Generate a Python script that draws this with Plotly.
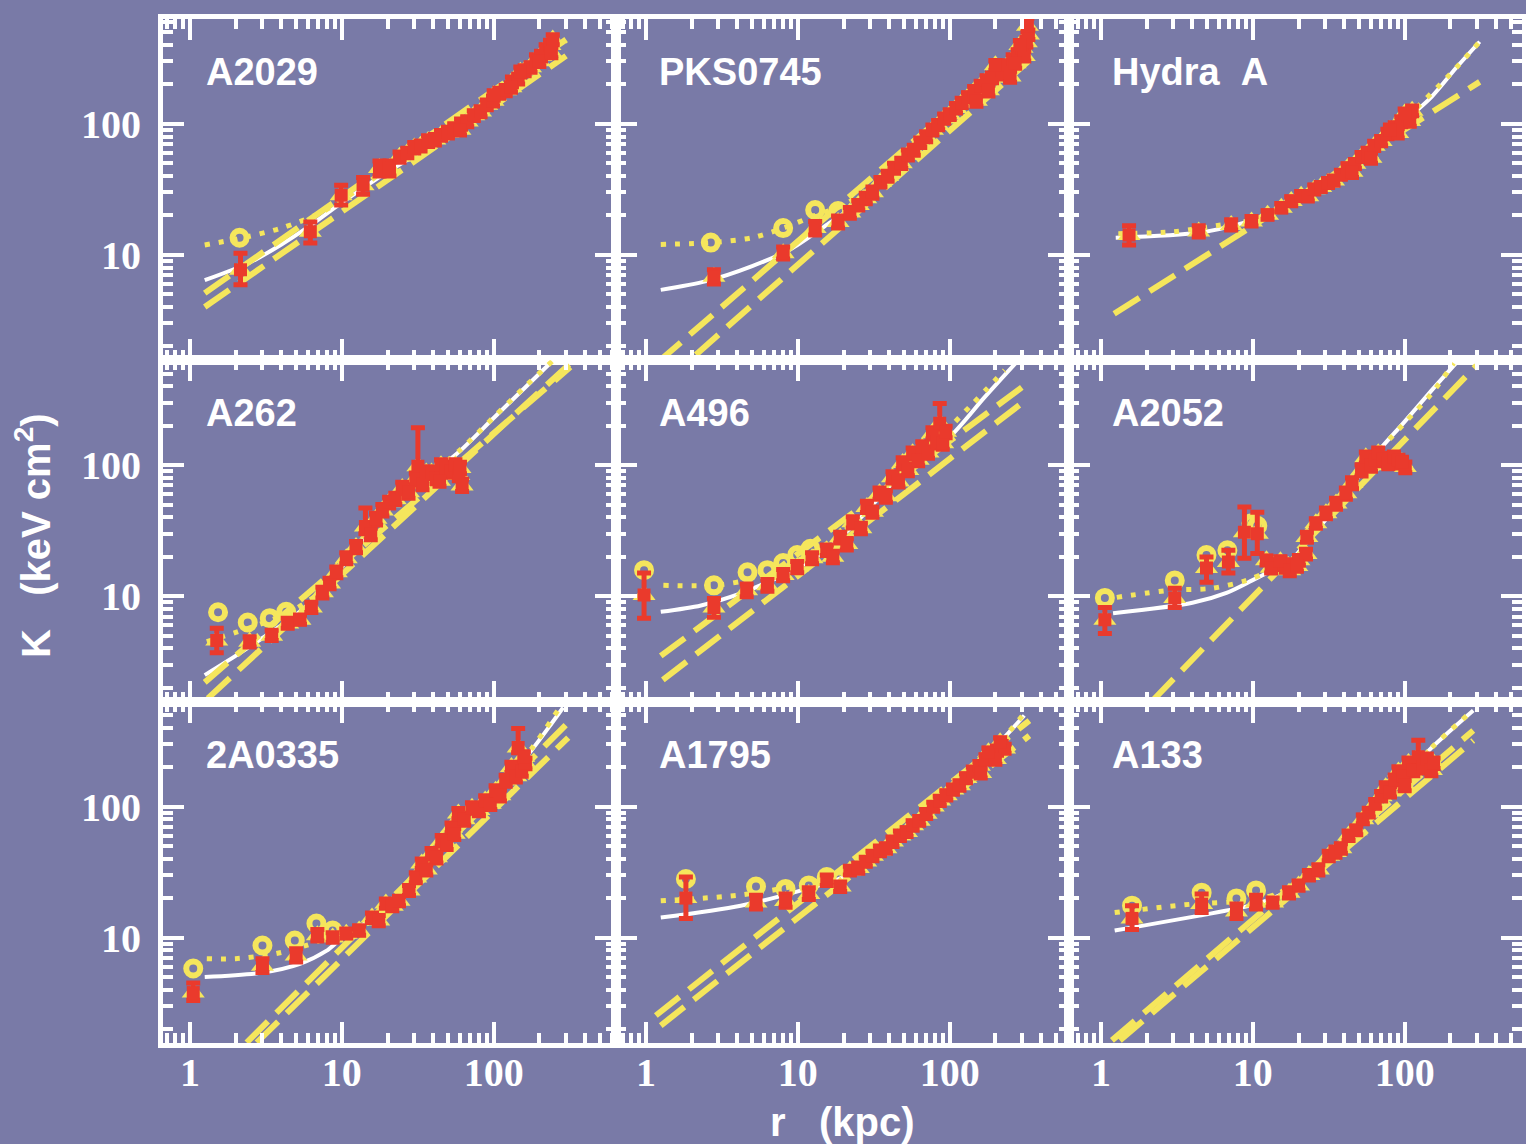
import plotly.graph_objects as go
from plotly.subplots import make_subplots

# ---------------- data ----------------
PANEL_NAMES = ["A2029", "PKS0745", "Hydra\u00a0\u00a0A",
               "A262", "A496", "A2052",
               "2A0335", "A1795", "A133"]

X_TICKS = [1, 10, 100]
X_TICKTEXT = ["1", "10", "100"]
Y_TICKS = [10, 100]
Y_TICKTEXT = ["10", "100"]

# ---- A2029 ----
A2029_R = [2.15, 6.2, 9.9, 13.8, 17.7, 20.6, 24, 27, 30, 33, 37, 41, 45, 50, 55, 61, 67, 74, 82, 90,
           99, 109, 120, 132, 145, 160, 175, 190, 205, 220, 235, 245, 60, 100, 130, 200, 240, 150]
A2029_K = [7.7, 15.0, 28.5, 34, 46, 46, 56, 60, 66, 68, 74, 76, 82, 86, 92, 100, 104, 116, 124, 140,
           150, 172, 180, 210, 220, 255, 270, 310, 330, 370, 400, 440, 90, 165, 190, 300, 350, 250]
A2029_EM = [1.8, 2.7, 4.5, 5, 6, 6, 5, 5, 6, 6, 7, 7, 7, 8, 8, 9, 9, 10, 11, 12,
            13, 15, 16, 18, 19, 22, 23, 27, 28, 32, 34, 38, 8, 14, 16, 26, 30, 22]
A2029_EP = [2.6, 2.8, 5.5, 5, 6, 6, 5, 5, 6, 6, 7, 7, 7, 8, 8, 9, 9, 10, 11, 12,
            13, 15, 16, 18, 19, 22, 23, 27, 28, 32, 34, 38, 8, 14, 16, 26, 30, 22]
A2029_CR = [2.12]
A2029_CK = [13.5]
A2029_WR = [1.25, 2.46, 4, 6.05, 10, 20, 40, 70, 100, 150, 200, 250]
A2029_WK = [6.4, 8.7, 12, 16.4, 25, 43, 70, 110, 155, 230, 310, 390]
A2029_DR = [1.25, 2.1, 4, 7, 10, 15, 25, 50, 100, 200, 300]
A2029_DK = [11.9, 13.3, 16, 20.5, 26, 36, 55, 85, 150, 300, 430]
A2029_DASH = [([1.25, 300], [5.1, 440]), ([1.25, 300], [4.0, 330])]

# ---- PKS0745 ----
PKS0745_R = [2.8, 8.0, 13, 18.4, 22, 25, 28, 31, 35, 39, 43, 48, 53, 58, 64, 70, 77, 84, 92, 100,
             110, 120, 132, 145, 160, 175, 190, 205, 220, 240, 260, 280, 300, 320, 330, 310, 290, 270,
             325, 200, 250, 180, 150]
PKS0745_K = [6.8, 10.3, 16, 17.8, 21, 24, 27, 30, 36, 40, 46, 50, 58, 63, 72, 80, 90, 98, 110, 118,
             132, 145, 160, 178, 195, 215, 225, 240, 255, 280, 310, 340, 380, 420, 480, 330, 400, 290,
             560, 280, 230, 180, 150]
PKS0745_EM = [0.8, 1.0, 1.8, 1.8, 2, 2, 2.5, 3, 3, 3.5, 4, 4.5, 5, 5.5, 6, 7, 8, 8, 9, 10,
              11, 12, 13, 15, 16, 18, 19, 20, 21, 23, 26, 28, 32, 35, 40, 28, 33, 24,
              60, 24, 22, 17, 14]
PKS0745_EP = [0.9, 1.2, 2.0, 2.0, 2, 2, 2.5, 3, 3, 3.5, 4, 4.5, 5, 5.5, 6, 7, 8, 8, 9, 10,
              11, 12, 13, 15, 16, 18, 19, 20, 21, 23, 26, 28, 32, 35, 40, 28, 33, 24,
              80, 24, 22, 17, 14]
PKS0745_CR = [2.67, 8.0, 13, 18.4]
PKS0745_CK = [12.4, 16, 22, 21.6]
PKS0745_WR = [1.25, 2.5, 5, 8.9, 15, 25, 50, 100, 200, 330]
PKS0745_WK = [5.4, 6.3, 8.2, 11, 16.5, 25, 52, 112, 235, 430]
PKS0745_DR = [1.25, 2.7, 5, 8, 13, 20, 40, 100, 200, 330]
PKS0745_DK = [12, 12.4, 13.5, 16, 20, 24, 42, 115, 240, 450]
PKS0745_DASH = [([1.2, 330], [1.52, 420]), ([2.13, 330], [1.73, 300])]

# ---- Hydra A ----
HYDRA_R = [1.53, 4.4, 7.2, 9.8, 12.5, 15.4, 17.9, 20.8, 23, 25.4, 28, 31.3, 34, 38, 42, 47, 52, 57,
           63, 70, 77, 86, 95, 105, 112, 108, 100, 90, 80, 60, 45]
HYDRA_K = [14.2, 15.1, 16.9, 18, 20.2, 22.9, 25.7, 28.2, 28, 31.6, 33, 35.5, 37, 41, 46, 49.5, 56, 60,
           68, 74, 84, 94, 104, 115, 126, 105, 120, 85, 90, 55, 43]
HYDRA_EM = [2.3, 1.4, 1.4, 1.4, 1.5, 1.7, 2, 2.2, 2.2, 2.5, 2.6, 2.8, 3, 3.2, 3.6, 4, 4.5, 5,
            5.5, 6, 7, 8, 9, 10, 11, 9, 10, 7, 8, 5, 4]
HYDRA_EP = [2.5, 1.6, 1.6, 1.6, 1.5, 1.7, 2, 2.2, 2.2, 2.5, 2.6, 2.8, 3, 3.2, 3.6, 4, 4.5, 5,
            5.5, 6, 7, 8, 9, 10, 11, 9, 10, 7, 8, 5, 4]
HYDRA_CR = []
HYDRA_CK = []
HYDRA_WR = [1.25, 4.5, 8.8, 15, 30, 60, 100, 150, 220, 312]
HYDRA_WK = [13.5, 14.8, 17.6, 22, 34, 63, 105, 160, 270, 423]
HYDRA_DR = [1.3, 3, 6, 10, 20, 50, 100, 200, 310]
HYDRA_DK = [14.5, 15, 16.8, 18.5, 27, 52, 108, 240, 420]
HYDRA_DASH = [([1.22, 312], [3.55, 209])]

# ---- A262 ----
A262_R = [1.5, 2.47, 3.45, 4.4, 5.3, 6.3, 7.45, 8.3, 9.2, 10.7, 12.4, 14.3, 15.5, 16.8, 18.5, 20.5,
          22.5, 25, 27.5, 30.7, 31.7, 34, 36, 39, 42, 45, 48.4, 52, 56, 59, 62, 60, 44]
A262_K = [4.6, 4.5, 5.0, 6.2, 6.6, 8.2, 10.7, 12.5, 15.2, 19.5, 23.7, 34, 30, 39, 45, 52,
          55, 67, 62, 79, 98, 72, 88, 88, 80, 100, 95, 90, 100, 84, 70, 95, 76]
A262_EM = [0.9, 0.4, 0.4, 0.5, 0.5, 0.7, 1, 1.1, 1.4, 1.8, 2.2, 4, 3, 4, 4, 5,
           5, 6, 6, 8, 12, 7, 9, 9, 8, 10, 9, 9, 10, 8, 7, 9, 7]
A262_EP = [1.1, 0.4, 0.5, 0.6, 0.6, 0.8, 1, 1.2, 1.5, 2, 2.4, 13, 3, 4, 5, 5,
           6, 7, 6, 8, 95, 7, 9, 9, 8, 10, 10, 9, 10, 9, 8, 10, 8]
A262_CR = [1.53, 2.4, 3.35, 4.3]
A262_CK = [7.55, 6.3, 6.8, 7.6]
A262_WR = [1.25, 2.03, 3, 5, 8, 12, 20, 40, 59, 100, 160, 241]
A262_WK = [2.5, 3.55, 4.8, 7.2, 12, 22, 45, 88, 126, 229, 388, 615]
A262_DR = [1.29, 2, 3, 4.5, 7, 10, 20, 59, 100, 160, 250]
A262_DK = [4.5, 5.3, 6.2, 7.5, 10.5, 17, 46, 128, 232, 395, 640]
A262_DASH = [([1.25, 320], [2.2, 560]), ([1.31, 320], [1.66, 600])]

# ---- A496 ----
A496_R = [0.97, 2.8, 4.6, 6.3, 8, 9.9, 12.4, 15.5, 17, 19, 21, 23, 26, 28.5, 31, 34.5, 38, 42, 46, 49,
          53, 57, 62, 66, 72, 77, 82, 86, 90, 94]
A496_K = [10.2, 8.2, 11.1, 12.1, 14.5, 16.7, 19.5, 22.4, 20, 28, 25, 36.7, 33, 48, 44, 61, 58, 81, 75, 104,
          92, 123, 110, 137, 125, 175, 150, 209, 147, 180]
A496_EM = [3.4, 1.3, 1.2, 1.2, 1.4, 1.6, 1.8, 2, 2, 2.5, 2.5, 3.5, 3, 4.5, 4, 6, 6, 8, 7, 10,
           9, 12, 11, 13, 12, 17, 15, 20, 15, 18]
A496_EP = [4.8, 1.4, 1.3, 1.3, 1.5, 1.7, 2, 2.2, 2, 2.8, 2.5, 3.7, 3, 5, 4, 6, 6, 8, 8, 10,
           9, 12, 11, 14, 13, 18, 15, 87, 15, 18]
A496_CR = [0.97, 2.8, 4.66, 6.3, 8, 9.9, 12.1]
A496_CK = [15.8, 12.1, 15.2, 15.8, 17.9, 20.6, 23]
A496_WR = [1.25, 2.3, 4.2, 7, 10, 15, 25, 50, 100, 170, 272]
A496_WK = [7.6, 8.5, 10.5, 13.5, 16.5, 22, 38, 90, 164, 330, 600]
A496_DR = [1.3, 2.8, 5, 8, 12, 20, 40, 80, 140, 230]
A496_DK = [12.1, 12.1, 13.5, 16.5, 21, 31, 72, 150, 290, 530]
A496_DASH = [([1.25, 300], [3.5, 394]), ([1.29, 317], [2.3, 313])]

# ---- A2052 ----
A2052_R = [1.06, 3.06, 4.95, 6.9, 8.8, 10.7, 12.3, 14, 16.5, 18.5, 20.1, 22.4, 22.7, 26, 30.3,
           35.3, 41, 45, 52, 55.5, 60, 64, 67, 72, 78, 85, 91, 101, 96, 13.2, 15.2, 17.5, 19.5]
A2052_K = [6.6, 9.7, 16.4, 18.2, 30.8, 30, 18.8, 17.5, 16.7, 17.5, 18.8, 21, 28.3, 36, 43,
           51, 61, 73, 91.7, 115, 100, 109, 123, 112, 104, 115, 109, 96.6, 105, 16.5, 18.5, 15.8, 17.0]
A2052_EM = [1.4, 1.5, 3.6, 3.2, 11.3, 8.8, 1.5, 1.5, 1.5, 1.5, 1.6, 1.8, 2.5, 3, 4,
            5, 6, 7, 9, 11, 10, 10, 12, 11, 10, 11, 10, 9, 10, 1.5, 1.5, 1.5, 1.5]
A2052_EP = [1.6, 1.8, 3.5, 4.2, 17.1, 13.8, 1.5, 1.5, 1.5, 1.5, 1.6, 1.8, 2.5, 3, 4,
            5, 6, 7, 9, 11, 10, 10, 12, 11, 10, 11, 10, 9, 10, 1.5, 1.5, 1.5, 1.5]
A2052_CR = [1.06, 3.06, 4.95, 6.8, 9.8, 10.7]
A2052_CK = [9.7, 13.2, 20.6, 22.4, 36, 34.5]
A2052_WR = [1.2, 4.0, 6.7, 9.9, 13.4, 18, 25, 40, 56, 100, 150, 218]
A2052_WK = [7.4, 8.9, 10.6, 13.2, 15.8, 19, 30, 56, 100, 215, 370, 600]
A2052_DR = [1.27, 2.84, 5.4, 9.1, 12.3, 18, 25, 40, 56, 100, 150, 210]
A2052_DK = [9.8, 11.1, 11.5, 13.2, 15.2, 19, 30, 56, 100, 210, 350, 600]
A2052_DASH = [([2.19, 297], [1.6, 575])]

# ---- 2A0335 ----
A0335_R = [1.05, 3.0, 5.0, 6.9, 8.7, 10.7, 13, 15.8, 17.5, 19.5, 21.5, 23.8, 27.7, 30.7, 33.6, 36, 39,
           42, 45.5, 49, 52.8, 55, 58.6, 64, 72, 80, 88, 95, 103, 110, 120, 131, 140, 145, 153, 162, 158]
A0335_K = [3.8, 6.1, 7.3, 10.4, 10.0, 10.7, 11.3, 14.2, 13.5, 18.2, 17.5, 19.1, 22.9, 28.7, 36.7, 33,
           43.8, 41, 55, 52, 69, 62, 88.5, 80, 98, 94, 111, 105, 132, 122, 158, 200, 170, 282, 188, 214, 240]
A0335_EM = [0.5, 0.7, 0.8, 1.0, 0.8, 0.8, 0.9, 1.2, 1.2, 1.5, 1.5, 1.6, 2, 2.5, 3, 3, 4, 4, 5, 5,
            6, 6, 8, 8, 9, 9, 10, 10, 12, 12, 15, 18, 16, 25, 18, 20, 22]
A0335_EP = [0.7, 0.8, 0.9, 1.1, 0.9, 0.9, 1.0, 1.2, 1.2, 1.5, 1.5, 1.6, 2, 2.5, 3, 3, 4, 4, 5, 5,
            6, 6, 8, 8, 9, 9, 10, 10, 12, 12, 15, 18, 16, 112, 18, 20, 22]
A0335_CR = [1.05, 3.0, 4.9, 6.8, 8.7]
A0335_CK = [5.8, 8.7, 9.5, 12.8, 11.3]
A0335_WR = [1.25, 3, 5.3, 7.9, 9.6, 12, 20, 35, 60, 100, 140, 177, 230, 287]
A0335_WK = [5.0, 5.4, 6.3, 7.9, 9.5, 11.3, 17, 36, 80, 125, 190, 267, 400, 570]
A0335_DR = [1.29, 2.0, 3.7, 6, 9, 12, 20, 35, 60, 100, 177, 270]
A0335_DK = [6.9, 6.9, 7.55, 8.8, 10.5, 11.5, 17, 36, 82, 128, 275, 560]
A0335_DASH = [([2.36, 320], [1.58, 453]), ([2.75, 310], [1.58, 336])]

# ---- A1795 ----
A1795_R = [1.83, 5.3, 8.3, 11.8, 15.5, 19, 22, 25, 28, 31, 34.7, 38, 42, 47, 52, 57, 63, 70, 78, 86,
           95, 105, 116, 128, 142, 157, 172, 190, 205, 220, 230, 200, 180, 160, 215]
A1795_K = [20, 18.5, 19, 21.5, 27, 24.5, 32.5, 34, 38, 42, 46, 48, 54, 60, 64, 72, 78, 88, 100, 111,
           122, 135, 145, 165, 185, 205, 230, 255, 268, 290, 277, 230, 260, 180, 310]
A1795_EM = [6, 2, 2, 2, 2, 2, 2.5, 3, 3, 3.5, 4, 4, 4.5, 5, 5, 6, 6, 7, 8, 9,
            10, 11, 12, 13, 15, 16, 18, 20, 22, 23, 22, 20, 20, 15, 25]
A1795_EP = [9, 2.5, 2.5, 2.5, 3, 2, 2.5, 3, 3, 3.5, 4, 4, 4.5, 5, 5, 6, 6, 7, 8, 9,
            10, 11, 12, 13, 15, 16, 18, 20, 22, 23, 22, 20, 20, 15, 25]
A1795_CR = [1.83, 5.3, 8.3, 11.8, 15.5]
A1795_CK = [28, 24.5, 23.5, 25, 29]
A1795_WR = [1.25, 4.2, 10.4, 20, 40, 70, 100, 150, 220, 310]
A1795_WK = [14.2, 17.5, 22.8, 29, 50, 85, 125, 200, 320, 495]
A1795_DR = [1.25, 4, 10, 20, 40, 70, 100, 150, 220, 300]
A1795_DK = [19.1, 21, 25, 31, 51, 86, 125, 200, 320, 490]
A1795_DASH = [([1.16, 335], [2.54, 453]), ([1.25, 335], [2.13, 348])]

# ---- A133 ----
A133_R = [1.6, 4.6, 7.8, 10.5, 13.5, 17.3, 20, 23.4, 27, 31.6, 35, 38, 42.7, 48, 53, 58, 64, 70, 75, 80,
          86, 91, 98, 106, 114, 123, 132, 140, 150, 155, 100]
A133_K = [14, 18, 15.8, 18.5, 18.5, 22, 25, 30, 33, 42, 45, 48, 60, 66, 80, 90, 105, 120, 140, 130,
          160, 185, 170, 215, 190, 240, 200, 230, 190, 215, 145]
A133_EM = [2.5, 2.5, 1.8, 2, 1.5, 2, 2, 2.5, 3, 3.5, 4, 4, 5, 5, 6, 7, 8, 10, 12, 12,
           14, 16, 15, 20, 18, 22, 20, 22, 18, 20, 13]
A133_EP = [3.5, 3.5, 2.2, 2.5, 1.5, 2, 2, 2.5, 3, 3.5, 4, 4, 5, 5, 6, 7, 8, 10, 12, 12,
           14, 16, 15, 20, 18, 80, 20, 22, 18, 20, 13]
A133_CR = [1.6, 4.6, 7.8, 10.5]
A133_CK = [17.5, 22, 19.9, 22.9]
A133_WR = [1.23, 4.45, 9.5, 15, 25, 40, 70, 100, 150, 283]
A133_WK = [11.3, 14.7, 17.5, 21, 33, 55, 115, 170, 280, 541]
A133_DR = [1.23, 4, 9.5, 15, 25, 40, 70, 100, 150, 270]
A133_DK = [15.5, 18, 19.2, 22, 33, 55, 115, 170, 280, 520]
A133_DASH = [([1.18, 283], [1.64, 380]), ([1.33, 283], [1.64, 319])]

PANELS = [
    (A2029_R, A2029_K, A2029_EM, A2029_EP, A2029_CR, A2029_CK, A2029_WR, A2029_WK, A2029_DR, A2029_DK, A2029_DASH),
    (PKS0745_R, PKS0745_K, PKS0745_EM, PKS0745_EP, PKS0745_CR, PKS0745_CK, PKS0745_WR, PKS0745_WK, PKS0745_DR, PKS0745_DK, PKS0745_DASH),
    (HYDRA_R, HYDRA_K, HYDRA_EM, HYDRA_EP, HYDRA_CR, HYDRA_CK, HYDRA_WR, HYDRA_WK, HYDRA_DR, HYDRA_DK, HYDRA_DASH),
    (A262_R, A262_K, A262_EM, A262_EP, A262_CR, A262_CK, A262_WR, A262_WK, A262_DR, A262_DK, A262_DASH),
    (A496_R, A496_K, A496_EM, A496_EP, A496_CR, A496_CK, A496_WR, A496_WK, A496_DR, A496_DK, A496_DASH),
    (A2052_R, A2052_K, A2052_EM, A2052_EP, A2052_CR, A2052_CK, A2052_WR, A2052_WK, A2052_DR, A2052_DK, A2052_DASH),
    (A0335_R, A0335_K, A0335_EM, A0335_EP, A0335_CR, A0335_CK, A0335_WR, A0335_WK, A0335_DR, A0335_DK, A0335_DASH),
    (A1795_R, A1795_K, A1795_EM, A1795_EP, A1795_CR, A1795_CK, A1795_WR, A1795_WK, A1795_DR, A1795_DK, A1795_DASH),
    (A133_R, A133_K, A133_EM, A133_EP, A133_CR, A133_CK, A133_WR, A133_WK, A133_DR, A133_DK, A133_DASH),
]

# ---------------- style ----------------
BG = "#797AA7"
RED = "#EA3A2C"
YEL = "#F5E65C"
WHITE = "#FFFFFF"
W, H = 1526, 1144

# pixel geometry of the panel grid
COL_EDGES = [163, 616, 1069, 1522]
ROW_EDGES = [19, 360.3, 701.7, 1043]
X_RANGES = [[-0.178, 2.806], [-0.198, 2.786], [-0.211, 2.773]]
Y_RANGE = [0.195, 2.80]

X_MINOR = [0.7, 0.8, 0.9, 2, 3, 4, 5, 6, 7, 8, 9, 20, 30, 40, 50, 60, 70, 80, 90, 200, 300, 400, 500, 600]
Y_MINOR = [2, 3, 4, 5, 6, 7, 8, 9, 20, 30, 40, 50, 60, 70, 80, 90, 200, 300, 400, 500, 600]

fig = make_subplots(rows=3, cols=3, horizontal_spacing=0, vertical_spacing=0)

for i, (R, K, EM, EP, CR, CK, WR, WK, DR, DK, DASH) in enumerate(PANELS):
    row, col = i // 3 + 1, i % 3 + 1
    # white solid fit
    fig.add_trace(go.Scatter(x=WR, y=WK, mode="lines", line=dict(color=WHITE, width=4, shape="spline", smoothing=0.8),
                             hoverinfo="skip"), row=row, col=col)
    # yellow dashed power laws
    for dr, dk in DASH:
        fig.add_trace(go.Scatter(x=dr, y=dk, mode="lines", line=dict(color=YEL, width=6, dash="30px,12px"),
                                 hoverinfo="skip"), row=row, col=col)
    # yellow dotted fit
    fig.add_trace(go.Scatter(x=DR, y=DK, mode="lines", line=dict(color=YEL, width=5, dash="5px,9px", shape="spline", smoothing=0.8),
                             hoverinfo="skip"), row=row, col=col)
    # yellow open circles
    if CR:
        fig.add_trace(go.Scatter(x=CR, y=CK, mode="markers",
                                 marker=dict(symbol="circle-open", size=14, color=YEL, line=dict(width=6, color=YEL))),
                      row=row, col=col)
    # yellow triangles behind the red points
    fig.add_trace(go.Scatter(x=R, y=K, mode="markers",
                             marker=dict(symbol="triangle-up", size=20, color=YEL, line=dict(width=0))),
                  row=row, col=col)
    # red points with error bars
    fig.add_trace(go.Scatter(x=R, y=K, mode="markers",
                             marker=dict(symbol="square", size=13, color=RED, line=dict(width=0)),
                             error_y=dict(type="data", array=EP, arrayminus=EM, symmetric=False,
                                          color=RED, thickness=5, width=7)),
                  row=row, col=col)

    n = i + 1
    xd = [COL_EDGES[col - 1] / W, COL_EDGES[col] / W]
    yd = [1 - ROW_EDGES[row] / H, 1 - ROW_EDGES[row - 1] / H]
    axis_common = dict(type="log", ticks="inside", tickwidth=4, tickcolor=WHITE,
                       showline=True, linewidth=5, linecolor=WHITE, mirror="ticks",
                       showgrid=False, zeroline=False,
                       tickfont=dict(family="Liberation Serif", size=40, color=WHITE, weight="bold"))
    fig.update_xaxes(**axis_common, range=X_RANGES[col - 1], domain=xd, ticklen=21,
                     tickmode="array", tickvals=X_TICKS, ticktext=X_TICKTEXT,
                     showticklabels=(row == 3), ticklabelstandoff=-10,
                     minor=dict(tickmode="array", tickvals=X_MINOR, ticks="inside", ticklen=10,
                                tickwidth=4, tickcolor=WHITE, showgrid=False),
                     row=row, col=col)
    fig.update_yaxes(**axis_common, range=Y_RANGE, domain=yd, ticklen=21,
                     tickmode="array", tickvals=Y_TICKS, ticktext=Y_TICKTEXT,
                     showticklabels=(col == 1), ticklabelstandoff=9,
                     minor=dict(tickmode="array", tickvals=Y_MINOR, ticks="inside", ticklen=10,
                                tickwidth=4, tickcolor=WHITE, showgrid=False),
                     row=row, col=col)
    ref = "" if n == 1 else str(n)
    fig.add_annotation(text=PANEL_NAMES[i], xref=f"x{ref} domain", yref=f"y{ref} domain",
                       x=0.09, y=0.845, xanchor="left", yanchor="middle", showarrow=False,
                       font=dict(family="Liberation Sans", size=38, color=WHITE, weight="bold"))

fig.add_annotation(text="K\u00a0\u00a0\u00a0(keV cm<sup>2</sup>)", xref="paper", yref="paper",
                   x=33 / W, y=1 - 536 / H, textangle=-90, showarrow=False,
                   xanchor="center", yanchor="middle",
                   font=dict(family="Liberation Sans", size=40, color=WHITE, weight="bold"))
fig.add_annotation(text="r\u00a0\u00a0\u00a0(kpc)", xref="paper", yref="paper",
                   x=842 / W, y=1 - 1122 / H, showarrow=False,
                   xanchor="center", yanchor="middle",
                   font=dict(family="Liberation Sans", size=40, color=WHITE, weight="bold"))

fig.update_layout(width=W, height=H, margin=dict(l=0, r=0, t=0, b=0),
                  paper_bgcolor=BG, plot_bgcolor=BG, showlegend=False)

fig.write_html("out.html", config={"displayModeBar": False},
               post_script="document.body.style.margin='0px';document.body.style.padding='0px';"
                           "document.body.style.background='" + BG + "';"
                           "document.documentElement.style.overflow='hidden';")
